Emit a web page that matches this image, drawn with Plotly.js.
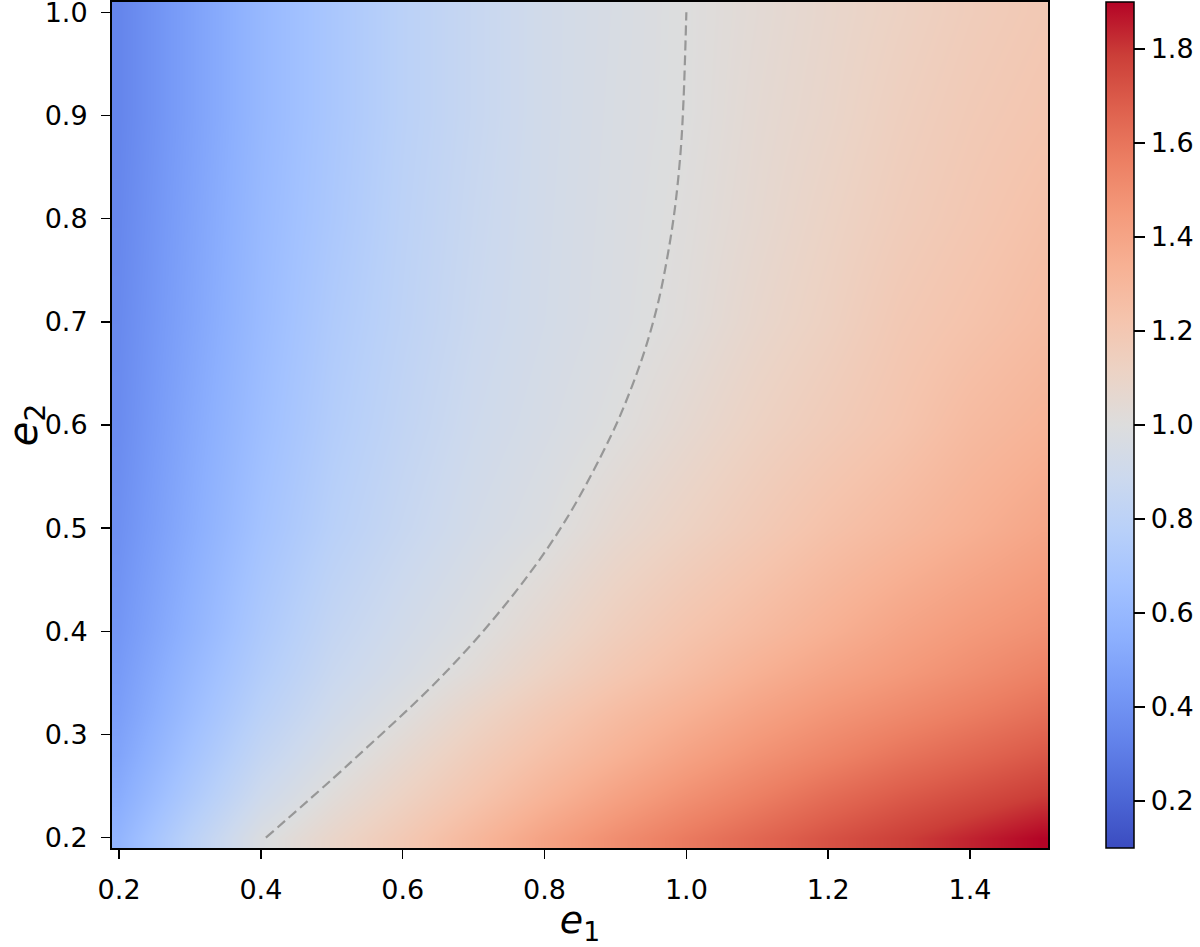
<!DOCTYPE html>
<html>
<head>
<meta charset="utf-8">
<script src="https://cdn.plot.ly/plotly-3.0.1.min.js"></script>
<style>
  html, body { margin: 0; padding: 0; background: #fff; }
  #chart { width: 1200px; height: 947px; }
</style>
</head>
<body>
<div id="chart"></div>
<script>
// grid (cell centres)
const e1Values = [0.2, 0.3, 0.4, 0.5, 0.6, 0.7, 0.8, 0.9, 1.0, 1.1, 1.2, 1.3, 1.4, 1.5];
const e2Values = [0.2, 0.24, 0.28, 0.32, 0.36, 0.4, 0.5, 0.6, 0.7, 0.8, 0.9, 1.0];

// estimated colour values, one row per e2
const row020 = [0.58, 0.79, 0.98, 1.09, 1.19, 1.30, 1.41, 1.50, 1.58, 1.65, 1.72, 1.78, 1.84, 1.90];
const row024 = [0.53, 0.72, 0.90, 1.02, 1.12, 1.22, 1.32, 1.41, 1.49, 1.56, 1.63, 1.69, 1.74, 1.79];
const row028 = [0.49, 0.67, 0.84, 0.96, 1.06, 1.16, 1.25, 1.33, 1.41, 1.48, 1.54, 1.60, 1.65, 1.70];
const row032 = [0.46, 0.63, 0.79, 0.91, 1.00, 1.10, 1.19, 1.27, 1.34, 1.41, 1.47, 1.52, 1.57, 1.62];
const row036 = [0.44, 0.60, 0.75, 0.87, 0.95, 1.03, 1.12, 1.20, 1.27, 1.34, 1.40, 1.45, 1.50, 1.55];
const row040 = [0.42, 0.57, 0.72, 0.84, 0.92, 0.99, 1.07, 1.15, 1.22, 1.28, 1.34, 1.40, 1.45, 1.49];
const row050 = [0.39, 0.53, 0.67, 0.78, 0.86, 0.93, 0.985, 1.06, 1.12, 1.18, 1.24, 1.29, 1.34, 1.39];
const row060 = [0.37, 0.51, 0.64, 0.75, 0.83, 0.90, 0.95, 1.00, 1.06, 1.12, 1.17, 1.22, 1.28, 1.32];
const row070 = [0.36, 0.49, 0.62, 0.73, 0.81, 0.88, 0.93, 0.975, 1.02, 1.08, 1.13, 1.19, 1.23, 1.27];
const row080 = [0.35, 0.48, 0.61, 0.71, 0.80, 0.87, 0.925, 0.97, 1.01, 1.06, 1.11, 1.16, 1.20, 1.24];
const row090 = [0.34, 0.47, 0.60, 0.70, 0.79, 0.86, 0.92, 0.965, 1.00, 1.05, 1.09, 1.14, 1.18, 1.21];
const row100 = [0.34, 0.47, 0.60, 0.70, 0.79, 0.86, 0.92, 0.96, 1.00, 1.04, 1.08, 1.12, 1.16, 1.19];

// dashed level-1 line
const boundaryE1 = [0.407, 0.525, 0.663, 0.761, 0.830, 0.894, 0.923, 0.943, 0.961, 0.974, 0.984, 0.992, 0.996, 1.0];
const boundaryE2 = [0.200, 0.272, 0.362, 0.440, 0.508, 0.590, 0.637, 0.676, 0.721, 0.766, 0.811, 0.866, 0.915, 1.0];

const xTicks = [0.2, 0.4, 0.6, 0.8, 1.0, 1.2, 1.4];
const yTicks = [0.2, 0.3, 0.4, 0.5, 0.6, 0.7, 0.8, 0.9, 1.0];
const cbTicks = [0.2, 0.4, 0.6, 0.8, 1.0, 1.2, 1.4, 1.6, 1.8];

// matplotlib coolwarm
const coolwarm = [
    [0.0, 'rgb(59,76,192)'], [0.0625, 'rgb(77,104,215)'], [0.125, 'rgb(98,130,234)'],
    [0.1875, 'rgb(119,154,247)'], [0.25, 'rgb(141,176,254)'], [0.3125, 'rgb(163,194,255)'],
    [0.375, 'rgb(184,208,249)'], [0.4375, 'rgb(204,217,238)'], [0.5, 'rgb(221,221,221)'],
    [0.5625, 'rgb(236,211,197)'], [0.625, 'rgb(245,196,173)'], [0.6875, 'rgb(247,177,148)'],
    [0.75, 'rgb(244,154,123)'], [0.8125, 'rgb(236,127,99)'], [0.875, 'rgb(222,96,77)'],
    [0.9375, 'rgb(203,62,56)'], [1.0, 'rgb(180,4,38)']
];

const font = 'DejaVu Sans, Liberation Sans, sans-serif';

const heat = {
    type: 'heatmap',
    x: e1Values,
    y: e2Values,
    z: [row020, row024, row028, row032, row036, row040, row050, row060, row070, row080, row090, row100],
    colorscale: coolwarm,
    zmin: 0.1,
    zmax: 1.9,
    zsmooth: 'best',
    hoverinfo: 'skip',
    colorbar: {
        x: 1.062, xanchor: 'left', xpad: 0,
        y: 0.5, yanchor: 'middle', ypad: 0,
        len: 1, thickness: 28,
        outlinewidth: 1.5, outlinecolor: '#000',
        tickvals: cbTicks, tickformat: '.1f', tickprefix: '\u2002',
        ticks: 'outside', ticklen: 11, tickwidth: 1.5, tickcolor: '#000',
        tickfont: {family: font, size: 27, color: '#000'},
        ticklabeloverflow: 'allow'
    }
};

const boundary = {
    type: 'scatter',
    mode: 'lines',
    x: boundaryE1,
    y: boundaryE2,
    line: {color: '#979797', width: 2.2, dash: '10px,5px', shape: 'spline', smoothing: 1},
    hoverinfo: 'skip',
    showlegend: false
};

const axisCommon = {
    showline: true, mirror: true, linecolor: '#000', linewidth: 2,
    ticks: 'outside', ticklen: 9, tickwidth: 1.5, tickcolor: '#000',
    tickfont: {family: font, size: 27, color: '#000'},
    tickformat: '.1f', ticklabelstandoff: 8, ticklabeloverflow: 'allow',
    showgrid: false, zeroline: false
};

const layout = {
    width: 1200,
    height: 947,
    margin: {l: 112, r: 152, t: 2, b: 99},
    paper_bgcolor: '#fff',
    plot_bgcolor: '#fff',
    showlegend: false,
    xaxis: Object.assign({}, axisCommon, {
        range: [0.19, 1.51], tickvals: xTicks,
        title: {text: '<i>e</i><sub>1</sub>', font: {family: font, size: 38, color: '#000'}, standoff: 17}
    }),
    yaxis: Object.assign({}, axisCommon, {
        range: [0.19, 1.01], tickvals: yTicks,
        title: {text: '<i>e</i><sub>2</sub>', font: {family: font, size: 40, color: '#000'}, standoff: 36}
    })
};

Plotly.newPlot('chart', [heat, boundary], layout, {displayModeBar: false, staticPlot: true});
</script>
</body>
</html>
